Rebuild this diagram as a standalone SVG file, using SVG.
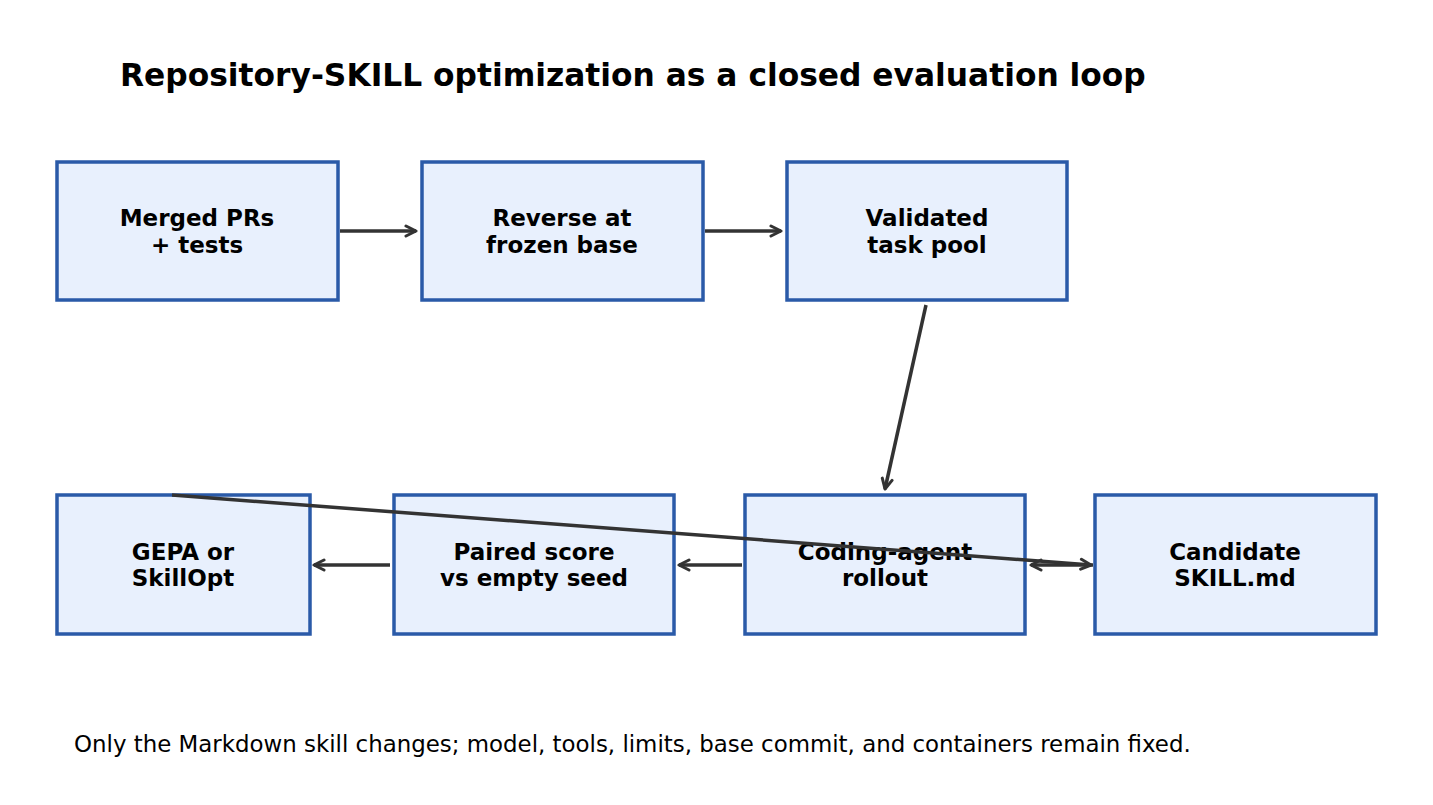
<svg xmlns="http://www.w3.org/2000/svg" width="1433" height="805" viewBox="0 0 1433 805">
<style>
.box{fill:#e8f0fd;stroke:#2a5aa8;stroke-width:3.5}
.lbl{font-family:"DejaVu Sans",sans-serif;font-weight:bold;font-size:23px;fill:#000;text-anchor:middle}
.edge{stroke:#333;stroke-width:3.5;fill:none}
</style>
<defs>
<marker id="ah" viewBox="0 0 14 14" refX="12" refY="7" markerWidth="14" markerHeight="14" markerUnits="userSpaceOnUse" orient="auto">
<path d="M2,2 L12,7 L2,12" fill="none" stroke="#333" stroke-width="3" stroke-linecap="round" stroke-linejoin="round"/>
</marker>
</defs>
<rect width="1433" height="805" fill="#fff"/>
<text x="120" y="86" font-family="DejaVu Sans,sans-serif" font-weight="bold" font-size="31.3">Repository-SKILL optimization as a closed evaluation loop</text>
<g id="n1"><rect class="box" x="57" y="162" width="281" height="138"/><text class="lbl" x="197" y="226">Merged PRs</text><text class="lbl" x="197" y="253">+ tests</text></g>
<g id="n2"><rect class="box" x="422" y="162" width="281" height="138"/><text class="lbl" x="562" y="226">Reverse at</text><text class="lbl" x="562" y="253">frozen base</text></g>
<g id="n3"><rect class="box" x="787" y="162" width="280" height="138"/><text class="lbl" x="927" y="226">Validated</text><text class="lbl" x="927" y="253">task pool</text></g>
<g id="n4"><rect class="box" x="57" y="495" width="253" height="139"/><text class="lbl" x="183" y="560">GEPA or</text><text class="lbl" x="183" y="586">SkillOpt</text></g>
<g id="n5"><rect class="box" x="394" y="495" width="280" height="139"/><text class="lbl" x="534" y="560">Paired score</text><text class="lbl" x="534" y="586">vs empty seed</text></g>
<g id="n6"><rect class="box" x="745" y="495" width="280" height="139"/><text class="lbl" x="885" y="560">Coding-agent</text><text class="lbl" x="885" y="586">rollout</text></g>
<g id="n7"><rect class="box" x="1095" y="495" width="281" height="139"/><text class="lbl" x="1235" y="560">Candidate</text><text class="lbl" x="1235" y="586">SKILL.md</text></g>
<g id="edges">
<line class="edge" x1="340" y1="231" x2="416" y2="231" marker-end="url(#ah)"/>
<line class="edge" x1="705" y1="231" x2="781" y2="231" marker-end="url(#ah)"/>
<line class="edge" x1="926" y1="305" x2="885" y2="489" marker-end="url(#ah)"/>
<line class="edge" x1="742" y1="565" x2="679" y2="565" marker-end="url(#ah)"/>
<line class="edge" x1="390" y1="565" x2="314" y2="565" marker-end="url(#ah)"/>
<line class="edge" x1="1093" y1="565" x2="1031" y2="565" marker-end="url(#ah)"/>
<line class="edge" x1="172" y1="495" x2="1091" y2="565" marker-end="url(#ah)"/>
</g>
<text x="74" y="752" font-family="DejaVu Sans,sans-serif" font-size="22.9">Only the Markdown skill changes; model, tools, limits, base commit, and containers remain fixed.</text>
</svg>
